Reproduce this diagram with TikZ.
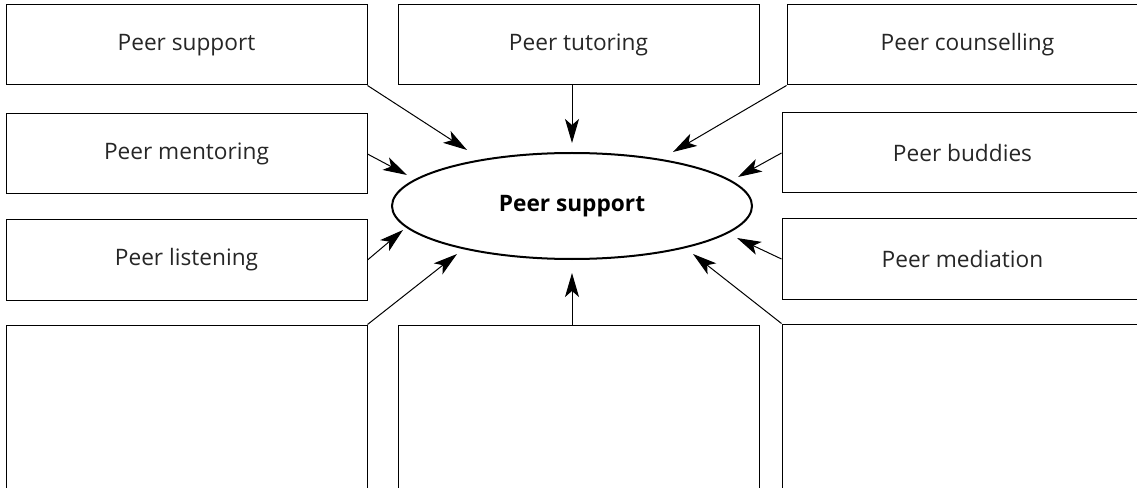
\documentclass[tikz,border=0pt]{standalone}
\usepackage{fontspec}
\setmainfont{Open Sans}
\usetikzlibrary{shapes.geometric, positioning, arrows.meta}

\tikzset{
	box/.style={draw, line width=0.75pt, minimum width=270.75pt, minimum height=60pt, inner sep=0pt, text=black!85, font=\fontsize{17}{20}\selectfont},
	tallbox/.style={box, minimum height=135pt},
	hub/.style={draw, ellipse, line width=1.5pt, minimum width=270pt, minimum height=79.5pt, inner sep=0pt, font=\fontsize{17}{20}\selectfont\bfseries},
	arr/.style={-{Stealth[length=18pt, width=10.5pt, inset=4.5pt]}, line width=0.75pt}
}

\begin{document}
\begin{tikzpicture}[x=0.75pt, y=-0.75pt]
	\useasboundingbox (0,0) rectangle (1137,488);
	\clip (0,0) rectangle (1137,488);

	\node[hub] (ps) at (572,206) {Peer support};

	\node[box] (sup) at (186.5,45) {Peer support};
	\node[box, right=22.5pt of sup] (tut) {Peer tutoring};
	\node[box, right=20.25pt of tut] (cou) {Peer counselling};
	\node[box, below=21pt of sup] (men) {Peer mentoring};
	\node[box, below=18.75pt of men] (lis) {Peer listening};
	\node[box] (bud) at (962.5,153) {Peer buddies};
	\node[box, below=18.75pt of bud] (med) {Peer mediation};

	\node[tallbox, below=18pt of lis] (bl) {};
	\node[tallbox, anchor=north] (bm) at (bl.north -| tut) {};
	\node[tallbox, below=18pt of med] (br) {};

	% arrow tips, just short of the ellipse
	\coordinate (t1) at (467,150);
	\coordinate (t2) at (572,143);
	\coordinate (t3) at (673,152);
	\coordinate (t4) at (407,175);
	\coordinate (t5) at (738,177);
	\coordinate (t6) at (403,230);
	\coordinate (t7) at (737,238);
	\coordinate (t8) at (457,254);
	\coordinate (t9) at (572,273);
	\coordinate (t10) at (693,254);

	\foreach \from/\to in {sup.south east/t1, t2 |- tut.south/t2, cou.south west/t3,
		men.east/t4, bud.west/t5, lis.east/t6, med.west/t7,
		bl.north east/t8, t9 |- bm.north/t9, br.north west/t10}
		\draw [arr] (\from) -- (\to);
\end{tikzpicture}
\end{document}
